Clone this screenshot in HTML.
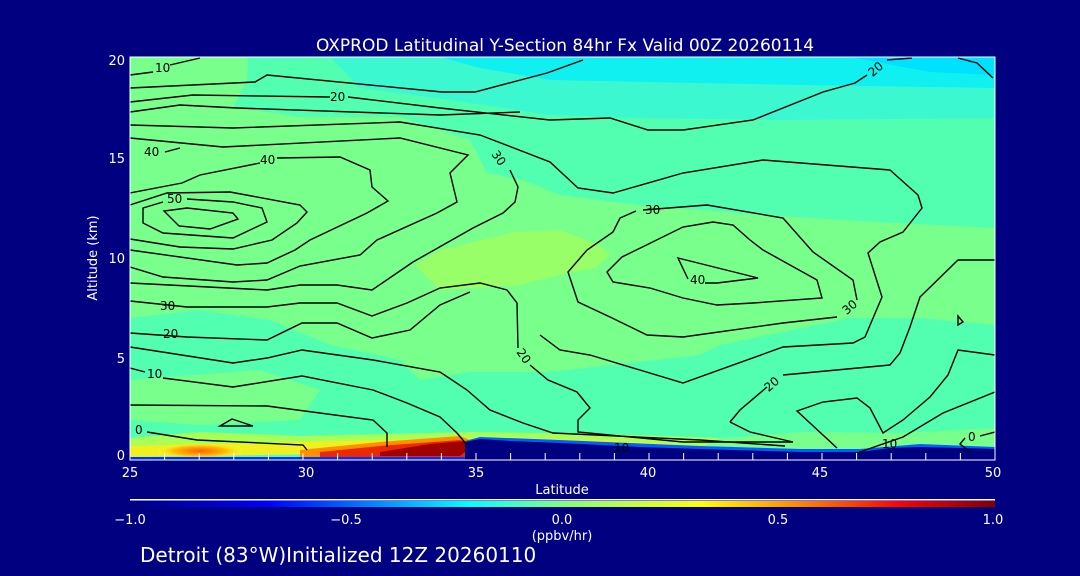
<!DOCTYPE html>
<html><head><meta charset="utf-8"><style>
html,body{margin:0;padding:0;background:#000080;}
svg{display:block;}
text{font-family:"DejaVu Sans","Liberation Sans",sans-serif;}
</style></head><body>
<svg width="1080" height="576" viewBox="0 0 1080 576" xmlns="http://www.w3.org/2000/svg">
<defs>
<linearGradient id="cb" x1="130" y1="0" x2="995" y2="0" gradientUnits="userSpaceOnUse">
<stop offset="0" stop-color="#000080"/>
<stop offset="0.16" stop-color="#0000ff"/>
<stop offset="0.39" stop-color="#00ffff"/>
<stop offset="0.5" stop-color="#80ff80"/>
<stop offset="0.66" stop-color="#ffff00"/>
<stop offset="0.78" stop-color="#ff8000"/>
<stop offset="0.89" stop-color="#ff0000"/>
<stop offset="1" stop-color="#800000"/>
</linearGradient>
<radialGradient id="org" cx="0.5" cy="0.5" r="0.5">
<stop offset="0" stop-color="#ff6000"/><stop offset="0.6" stop-color="#ffc000"/><stop offset="1" stop-color="#ffff40" stop-opacity="0"/>
</radialGradient>
<clipPath id="pc"><rect x="130" y="57" width="865" height="403"/></clipPath>
</defs>
<g clip-path="url(#pc)">
<rect x="130" y="57" width="865" height="403" fill="#52FFB0"/>
<polygon fill="#3CF8D0" points="330,57 995,57 995,118 780,120 640,118 550,115 450,100 360,88"/>
<polygon fill="#10F0F0" points="440,57 995,57 995,88 800,85 650,82 550,80 480,68"/>
<polygon fill="#00E0FF" points="850,57 995,57 995,75 930,72"/>
<polygon fill="#78FF8C" points="130,57 248,57 247,80 233,107 300,117 400,117 470,140 487,173 523,180 560,195 640,205 760,215 880,222 995,228 995,325 920,318 850,318 720,345 700,355 550,372 470,372 420,380 400,360 330,345 270,320 200,310 130,318"/>
<polygon fill="#98FF68" points="415,265 440,250 515,232 560,230 600,245 610,255 595,268 560,275 520,285 440,290"/>
<polygon fill="#78FF8C" points="130,380 260,370 320,390 300,420 200,425 130,420"/>
<polygon fill="#78FF8C" points="700,440 800,432 900,433 995,428 995,450 700,450"/>
<polygon fill="#a8ff58" points="130,438 200,432 300,436 470,432 600,434 720,438 700,448 470,450 130,455"/>
<polygon fill="#f0f020" points="130,446 300,442 470,438 600,440 700,446 470,452 130,457"/>
<ellipse cx="200" cy="451" rx="45" ry="8" fill="url(#org)"/>
<polygon fill="#ff9000" points="300,450 380,442 460,436 470,440 470,457 300,457"/>
<polygon fill="#ee2800" points="320,452 380,446 460,440 470,444 470,457 320,457"/>
<polygon fill="#a00000" points="380,452 430,444 465,441 470,448 460,456 380,456"/>
<rect x="130" y="457" width="340" height="3" fill="#0030ff"/>
<polygon fill="#0060ff" points="465,441 480,437 560,440 700,446 800,449 860,449 920,444 995,447 995,460 465,460"/>
<polygon fill="#000080" points="465,442 480,439 510,441 560,443 640,447 700,449 800,452 860,452 890,448 920,447 960,448 995,449 995,460 465,460"/>
</g>
<g fill="none" stroke="#000" stroke-width="1.4" clip-path="url(#pc)">
<polyline points="130,75 153,72"/><polyline points="170,65 200,58"/>
<polyline points="130,88 255,82 267,75 442,92 475,92 547,73 583,60"/>
<polyline points="130,102 193,95 330,97"/><polyline points="348,97 440,108 550,120 610,118 648,130 683,130 753,120 823,92 855,83 867,75"/><polyline points="887,60 912,58"/>
<polyline points="958,58 977,63 993,78"/>
<polyline points="130,112 180,105 237,108 440,115 520,112"/>
<polyline points="130,125 233,128 400,122 480,135 550,162 578,188 613,193 683,173 763,160 890,170 918,195 922,208 903,232 880,242 868,253 882,297 865,337 853,343 783,347 683,383 590,355 560,350 540,335"/>
<polyline points="130,138 223,147 400,138 468,155 450,173 457,202 437,213 377,240 360,255 300,266 267,280 233,282 163,277 130,267"/>
<polyline points="165,152 180,148"/>
<polyline points="130,193 182,183 200,175 260,163"/><polyline points="277,158 340,157 370,170 372,187 388,201 367,213 310,240 295,250 267,263 237,265 130,250"/>
<polyline points="130,205 167,193 230,192 300,205 307,212 297,223 272,240 233,249 180,247 130,239"/>
<polyline points="163,202 143,208 143,223 163,233 233,238 267,222 262,208 233,202 187,199"/>
<polygon points="164,211 179,226 210,229 238,219 233,213 187,208"/>
<polyline points="510,170 518,187 515,202 503,213 473,228 413,262 372,290 337,285 300,285 267,290 130,283"/>
<polyline points="130,301 187,307 267,307 300,303 337,303 372,316 407,303 440,288 480,283 507,290 517,303 518,348"/><polyline points="530,365 548,380 577,392 590,408 578,420 578,432 683,442 793,442"/>
<polyline points="130,333 187,337 267,340 302,323 337,323 372,338 410,330 440,305 470,292"/>
<polyline points="130,347 233,363 267,358 302,350 373,360 440,372 467,390 490,410 523,423 553,433 700,440 785,446"/>
<polyline points="130,368 145,372"/><polyline points="163,378 233,387 302,376 373,390 407,403 440,417 457,433 467,445"/>
<polyline points="130,405 267,406 373,420 387,433 387,447"/>
<polyline points="147,432 197,440 303,445 307,450"/>
<polygon points="220,426 232,419 253,426"/>
<polyline points="643,210 707,205 783,218 813,252 853,280 857,300"/><polyline points="837,317 783,323 683,337 647,335 610,317 578,302 568,272 587,250 613,232 620,218 636,211"/>
<polygon points="607,272 622,257 683,227 713,222 733,225 750,240 763,250 817,280 822,298 753,303 717,305 683,298 650,288 613,282"/>
<polyline points="688,279 678,258 758,278 717,283 705,283"/>
<polyline points="730,422 740,410 767,387"/><polyline points="783,375 890,365 900,353 910,327 920,297 958,260 995,260"/>
<polyline points="730,422 750,432 793,442"/>
<polyline points="995,355 958,350 948,375 930,397 903,420 883,433 870,408 857,398 823,402 797,411 837,448"/>
<polyline points="995,392 943,413 903,437 857,453"/>
<polygon points="958,316 963,322 958,325"/>
<polyline points="995,432 980,436"/><polyline points="965,438 960,444 970,452"/>
</g>
<g font-size="12" fill="#000">
<text x="155" y="72">10</text><text x="330" y="101">20</text><text x="868" y="73" transform="rotate(-40 876 69)">20</text>
<text x="144" y="156">40</text><text x="260" y="164">40</text><text x="167" y="203">50</text>
<text x="490" y="164" transform="rotate(55 500 160)">30</text><text x="645" y="214">30</text><text x="690" y="284">40</text>
<text x="842" y="311" transform="rotate(-40 850 307)">30</text><text x="160" y="310">30</text><text x="163" y="338">20</text>
<text x="515" y="362" transform="rotate(55 525 358)">20</text><text x="147" y="378">10</text><text x="764" y="388" transform="rotate(-40 772 384)">20</text>
<text x="135" y="434">0</text><text x="614" y="452">10</text><text x="882" y="448">10</text><text x="968" y="441">0</text>
</g>
<rect x="130" y="57" width="865" height="403" fill="none" stroke="#fff" stroke-width="1"/>
<g stroke="#fff" stroke-width="1">
<path d="M164.6,460v-7M199.2,460v-7M233.8,460v-7M268.4,460v-7M303,460v-7M337.6,460v-7M372.2,460v-7M406.8,460v-7M441.4,460v-7M476,460v-7M510.6,460v-7M545.2,460v-7M579.8,460v-7M614.4,460v-7M649,460v-7M683.6,460v-7M718.2,460v-7M752.8,460v-7M787.4,460v-7M822,460v-7M856.6,460v-7M891.2,460v-7M925.8,460v-7M960.4,460v-7"/>
</g>
<g fill="#fff" font-size="13">
<text x="565" y="51" text-anchor="middle" font-size="17">OXPROD Latitudinal Y-Section 84hr  Fx Valid 00Z 20260114</text>
<text x="125" y="65" text-anchor="end">20</text><text x="125" y="163" text-anchor="end">15</text>
<text x="125" y="263" text-anchor="end">10</text><text x="125" y="363" text-anchor="end">5</text><text x="125" y="460" text-anchor="end">0</text>
<text x="130" y="477" text-anchor="middle">25</text><text x="306" y="477" text-anchor="middle">30</text><text x="476" y="477" text-anchor="middle">35</text>
<text x="648" y="477" text-anchor="middle">40</text><text x="820" y="477" text-anchor="middle">45</text><text x="993" y="477" text-anchor="middle">50</text>
<text x="562" y="494" text-anchor="middle">Latitude</text>
<text x="0" y="0" transform="translate(97,258) rotate(-90)" text-anchor="middle">Altitude (km)</text>
<text x="130" y="524" text-anchor="middle">−1.0</text><text x="346" y="524" text-anchor="middle">−0.5</text>
<text x="562" y="524" text-anchor="middle">0.0</text><text x="778" y="524" text-anchor="middle">0.5</text><text x="993" y="524" text-anchor="middle">1.0</text>
<text x="562" y="540" text-anchor="middle">(ppbv/hr)</text>
<text x="140" y="562" font-size="20">Detroit (83°W)Initialized 12Z 20260110</text>
</g>
<rect x="130" y="499" width="865" height="1.5" fill="#fff"/>
<rect x="130" y="501" width="865" height="6" fill="url(#cb)"/>
</svg>
</body></html>
